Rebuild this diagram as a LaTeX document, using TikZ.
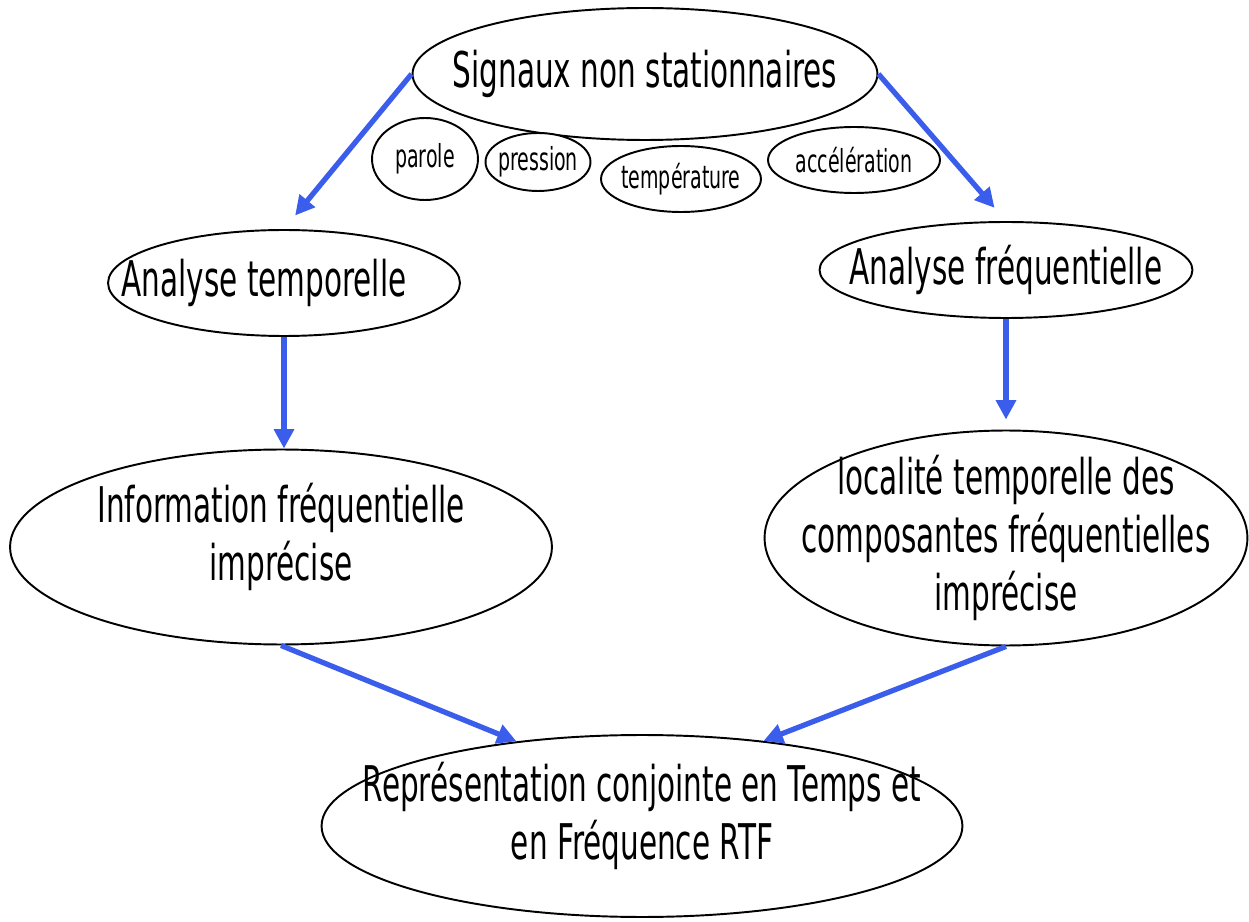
\documentclass[tikz,border=0pt]{standalone}
\usepackage{fontspec}
\setmainfont{DejaVu Sans}[FakeStretch=0.6]
\definecolor{sigblue}{RGB}{58,94,235}
\usepackage{tikz}
\usetikzlibrary{shapes.geometric, arrows.meta}
\tikzset{
  bubble/.style 2 args={ellipse, draw=black, line width=1.1pt, fill=white,
              minimum width=#1, minimum height=#2, inner sep=0pt},
  bigtxt/.style={font=\fontsize{28}{33}\selectfont, align=center, inner sep=0pt},
  smalltxt/.style={font=\fontsize{18}{21}\selectfont, align=center, inner sep=0pt},
  flow/.style={-{Triangle[length=11pt,width=11pt]}, line width=3pt, color=sigblue},
}
\begin{document}
\begin{tikzpicture}[x=0.02cm, y=-0.02cm]
    \useasboundingbox[fill=white] (0,0) rectangle (1249,922);
    \node[bubble={9.3cm}{2.64cm}, label={[bigtxt]center:Signaux non stationnaires}] (sig) at (645,74) {};
    \node[bubble={2.12cm}{1.64cm}, label={[smalltxt]center:parole}] (parole) at (425,159) {};
    \node[bubble={2.1cm}{1.16cm}, label={[smalltxt]center:pression}] (press) at (538,162) {};
    \node[bubble={3.2cm}{1.32cm}, label={[smalltxt]center:température}] (temp) at (681,179) {};
    \node[bubble={3.44cm}{1.32cm}, label={[smalltxt]center:accélération}] (accel) at (854,160) {};
    \node[bubble={7.04cm}{2.12cm}, label={[bigtxt, xshift=-0.4cm]center:Analyse temporelle}] (atemp) at (284,283) {};
    \node[bubble={7.46cm}{1.92cm}, label={[bigtxt]center:Analyse fréquentielle}] (afreq) at (1006,270) {};
    \node[bubble={10.84cm}{3.9cm}, label={[bigtxt, yshift=0.2cm]center:Information fréquentielle\\imprécise}] (info) at (281,547) {};
    \node[bubble={9.66cm}{4.3cm}, label={[bigtxt]center:localité temporelle des\\composantes fréquentielles\\imprécise}] (loc) at (1006,538) {};
    \node[bubble={12.82cm}{3.64cm}, label={[bigtxt, yshift=0.2cm]center:Représentation conjointe en Temps et\\en Fréquence RTF}] (rtf) at (642,826) {};

    \draw[flow, shorten >=0.35cm] (sig.west) -- (atemp.north);
    \draw[flow, shorten >=0.35cm] (sig.east) -- (afreq.north);
    \draw[flow] (atemp.south) -- (atemp.south |- info.north);
    \draw[flow, shorten >=0.2cm] (afreq.south) -- (loc.north);
    \draw[flow] (info.south) -- (rtf.146);
    \draw[flow] (loc.south) -- (rtf.35);
  \end{tikzpicture}
\end{document}
